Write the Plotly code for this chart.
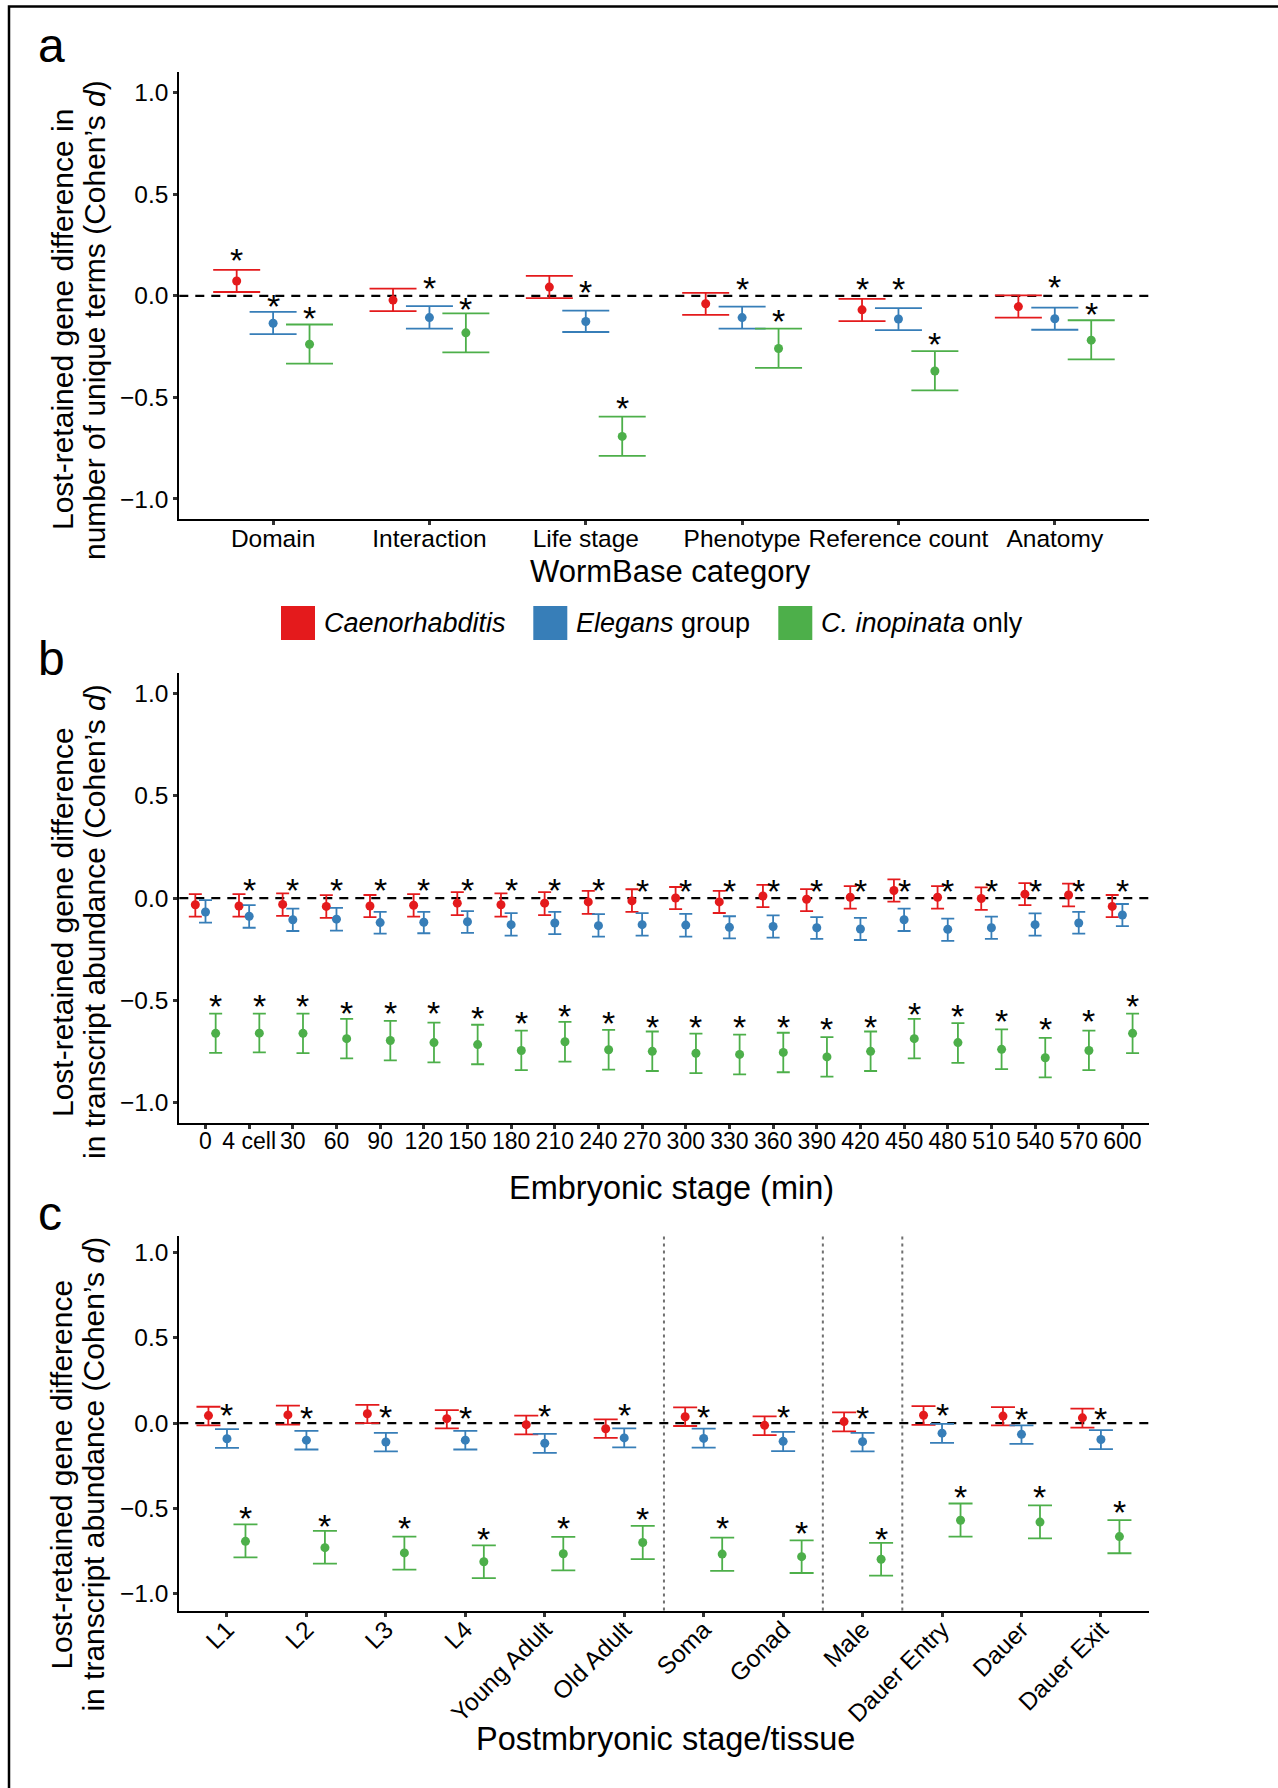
import plotly.graph_objects as go

W, H = 1278, 1788
FONT = "Liberation Sans, Arial, Helvetica, sans-serif"
RED, BLUE, GREEN = "#E41A1C", "#377EB8", "#4DAF4A"
SERIES_COLORS = [RED, BLUE, GREEN]

# ---------------- Panel a : WormBase category ----------------
a_categories = ["Domain", "Interaction", "Life stage", "Phenotype", "Reference count", "Anatomy"]
a_cae_mean = [0.073, -0.021, 0.043, -0.039, -0.069, -0.053]
a_cae_low = [0.019, -0.075, -0.011, -0.094, -0.124, -0.107]
a_cae_high = [0.128, 0.036, 0.098, 0.015, -0.015, 0.002]
a_cae_star = [0.193, None, None, None, 0.049, None]
a_ele_mean = [-0.135, -0.107, -0.126, -0.107, -0.114, -0.113]
a_ele_low = [-0.188, -0.161, -0.178, -0.161, -0.169, -0.167]
a_ele_high = [-0.079, -0.051, -0.073, -0.053, -0.060, -0.058]
a_ele_star = [-0.036, 0.053, 0.036, 0.049, 0.049, 0.058]
a_ino_mean = [-0.238, -0.182, -0.692, -0.259, -0.370, -0.218]
a_ino_low = [-0.334, -0.278, -0.788, -0.355, -0.465, -0.313]
a_ino_high = [-0.141, -0.086, -0.595, -0.161, -0.272, -0.120]
a_ino_star = [-0.096, -0.051, -0.538, -0.107, -0.223, -0.077]

# ---------------- Panel b : Embryonic stage ----------------
b_categories = ["0", "4 cell", "30", "60", "90", "120", "150", "180", "210", "240", "270",
                "300", "330", "360", "390", "420", "450", "480", "510", "540", "570", "600"]
b_cae_mean = [-0.033, -0.039, -0.031, -0.041, -0.039, -0.035, -0.025, -0.033, -0.025, -0.019, -0.014,
              0.000, -0.019, 0.010, -0.006, 0.004, 0.037, 0.004, -0.002, 0.019, 0.015, -0.041]
b_cae_high = [0.019, 0.019, 0.023, 0.014, 0.015, 0.019, 0.029, 0.023, 0.029, 0.035, 0.043,
              0.054, 0.035, 0.064, 0.044, 0.058, 0.091, 0.058, 0.052, 0.073, 0.070, 0.015]
b_cae_low = [-0.091, -0.091, -0.087, -0.097, -0.093, -0.091, -0.083, -0.091, -0.083, -0.077, -0.068,
             -0.054, -0.073, -0.044, -0.064, -0.052, -0.017, -0.052, -0.058, -0.035, -0.041, -0.093]
b_cae_star = [None] * 22
b_ele_mean = [-0.068, -0.089, -0.106, -0.103, -0.120, -0.118, -0.116, -0.130, -0.122, -0.135, -0.130,
              -0.132, -0.143, -0.139, -0.145, -0.151, -0.106, -0.153, -0.145, -0.130, -0.122, -0.083]
b_ele_high = [-0.010, -0.035, -0.052, -0.048, -0.068, -0.068, -0.064, -0.074, -0.068, -0.079, -0.074,
              -0.077, -0.089, -0.085, -0.093, -0.097, -0.052, -0.101, -0.091, -0.075, -0.068, -0.029]
b_ele_low = [-0.120, -0.145, -0.161, -0.159, -0.174, -0.172, -0.170, -0.184, -0.176, -0.188, -0.184,
             -0.188, -0.197, -0.193, -0.199, -0.205, -0.161, -0.209, -0.199, -0.184, -0.174, -0.137]
b_ele_star = [None, 0.052, 0.052, 0.052, 0.052, 0.052, 0.052, 0.052, 0.052, 0.052, 0.048,
              0.048, 0.048, 0.048, 0.048, 0.048, 0.048, 0.048, 0.048, 0.048, 0.048, 0.048]
b_ino_mean = [-0.661, -0.660, -0.661, -0.687, -0.696, -0.706, -0.716, -0.745, -0.702, -0.741, -0.749,
              -0.758, -0.764, -0.754, -0.776, -0.749, -0.687, -0.706, -0.739, -0.780, -0.745, -0.661]
b_ino_high = [-0.565, -0.565, -0.565, -0.590, -0.600, -0.609, -0.619, -0.648, -0.605, -0.644, -0.652,
              -0.662, -0.667, -0.658, -0.679, -0.652, -0.590, -0.611, -0.642, -0.683, -0.648, -0.565]
b_ino_low = [-0.756, -0.754, -0.758, -0.783, -0.793, -0.803, -0.812, -0.841, -0.799, -0.838, -0.845,
             -0.855, -0.861, -0.851, -0.872, -0.845, -0.783, -0.805, -0.836, -0.876, -0.841, -0.758]
b_ino_star = [-0.513, -0.513, -0.513, -0.547, -0.547, -0.547, -0.571, -0.594, -0.561, -0.594, -0.613,
              -0.613, -0.613, -0.613, -0.625, -0.613, -0.551, -0.561, -0.586, -0.625, -0.586, -0.513]

# ---------------- Panel c : Postembryonic stage / tissue ----------------
c_categories = ["L1", "L2", "L3", "L4", "Young Adult", "Old Adult", "Soma", "Gonad", "Male",
                "Dauer Entry", "Dauer", "Dauer Exit"]
c_group_ends = ["Old Adult", "Gonad", "Male"]
c_cae_mean = [0.044, 0.048, 0.055, 0.026, -0.009, -0.033, 0.037, -0.013, 0.009, 0.046, 0.041, 0.031]
c_cae_high = [0.096, 0.103, 0.107, 0.076, 0.044, 0.022, 0.092, 0.039, 0.063, 0.100, 0.094, 0.085]
c_cae_low = [-0.013, -0.009, 0.000, -0.031, -0.066, -0.087, -0.017, -0.070, -0.048, -0.011, -0.013, -0.026]
c_cae_star = [None] * 12
c_ele_mean = [-0.092, -0.100, -0.111, -0.100, -0.118, -0.087, -0.090, -0.107, -0.109, -0.059, -0.066, -0.096]
c_ele_high = [-0.035, -0.046, -0.057, -0.046, -0.063, -0.031, -0.033, -0.052, -0.057, -0.004, -0.013, -0.041]
c_ele_low = [-0.146, -0.155, -0.166, -0.155, -0.175, -0.142, -0.144, -0.164, -0.166, -0.116, -0.122, -0.153]
c_ele_star = [0.063, 0.048, 0.052, 0.048, 0.059, 0.066, 0.052, 0.052, 0.048, 0.066, 0.044, 0.044]
c_ino_mean = [-0.694, -0.731, -0.762, -0.814, -0.767, -0.701, -0.769, -0.784, -0.799, -0.570, -0.581, -0.666]
c_ino_high = [-0.594, -0.633, -0.666, -0.718, -0.668, -0.603, -0.672, -0.688, -0.703, -0.472, -0.483, -0.570]
c_ino_low = [-0.788, -0.825, -0.860, -0.910, -0.865, -0.799, -0.867, -0.880, -0.895, -0.666, -0.677, -0.764]
c_ino_star = [-0.541, -0.585, -0.596, -0.662, -0.596, -0.548, -0.598, -0.629, -0.662, -0.415, -0.415, -0.502]

y_tick_vals = [-1.0, -0.5, 0.0, 0.5, 1.0]
y_tick_text = ["\u22121.0", "\u22120.5", "0.0", "0.5", "1.0"]
legend_labels = ["<i>Caenorhabditis</i>", "<i>Elegans</i> group", "<i>C. inopinata</i> only"]


def px(x):
    return x / W


def py(y):
    return 1 - y / H


X_DOM = [px(179.3), px(1148.6)]
DODGE = [-0.233, 0.0, 0.233]

panels = [
    dict(cats=a_categories, top=72.4, bottom=519.3, cap=23.5, angle=0, standoff=-8, tick_size=24.5,
         series=[(a_cae_mean, a_cae_low, a_cae_high, a_cae_star),
                 (a_ele_mean, a_ele_low, a_ele_high, a_ele_star),
                 (a_ino_mean, a_ino_low, a_ino_high, a_ino_star)],
         ytitle=["Lost-retained gene difference in", "number of unique terms (Cohen\u2019s <i>d</i>)"],
         ytitle_y=320, xtitle="WormBase category", xtitle_x=670, xtitle_y=572, xtitle_size=31,
         letter="a", letter_y=45),
    dict(cats=b_categories, top=672.9, bottom=1123.2, cap=6.5, angle=0, standoff=-8, tick_size=23,
         series=[(b_cae_mean, b_cae_low, b_cae_high, b_cae_star),
                 (b_ele_mean, b_ele_low, b_ele_high, b_ele_star),
                 (b_ino_mean, b_ino_low, b_ino_high, b_ino_star)],
         ytitle=["Lost-retained gene difference", "in transcript abundance (Cohen\u2019s <i>d</i>)"],
         ytitle_y=922, xtitle="Embryonic stage (min)", xtitle_x=671, xtitle_y=1188, xtitle_size=32.5,
         letter="b", letter_y=658),
    dict(cats=c_categories, top=1235.7, bottom=1610.5, cap=12, angle=-45, standoff=-11, tick_size=24.5,
         series=[(c_cae_mean, c_cae_low, c_cae_high, c_cae_star),
                 (c_ele_mean, c_ele_low, c_ele_high, c_ele_star),
                 (c_ino_mean, c_ino_low, c_ino_high, c_ino_star)],
         ytitle=["Lost-retained gene difference", "in transcript abundance (Cohen\u2019s <i>d</i>)"],
         ytitle_y=1474.6, xtitle="Postmbryonic stage/tissue", xtitle_x=665, xtitle_y=1738.5,
         xtitle_size=32.5, letter="c", letter_y=1213),
]

fig = go.Figure()
layout_axes = {}
annotations = []
shapes = []

for k, p in enumerate(panels, start=1):
    xa = "x" if k == 1 else f"x{k}"
    ya = "y" if k == 1 else f"y{k}"
    n = len(p["cats"])
    for (mean, lo, hi, star), color, off in zip(p["series"], SERIES_COLORS, DODGE):
        xs = [i + off for i in range(n)]
        fig.add_trace(go.Scatter(
            x=xs, y=mean, mode="markers",
            marker=dict(color=color, size=9, line=dict(width=0)),
            error_y=dict(type="data", symmetric=False,
                         array=[h - m for m, h in zip(mean, hi)],
                         arrayminus=[m - l for m, l in zip(mean, lo)],
                         width=p["cap"], thickness=1.8, color=color),
            xaxis=xa, yaxis=ya, showlegend=False, hoverinfo="skip"))
        for xv, s in zip(xs, star):
            if s is not None:
                annotations.append(dict(x=xv, y=s, xref=xa, yref=ya, text="*", showarrow=False,
                                        font=dict(size=34, color="black", family=FONT), yshift=-3))
    layout_axes["xaxis" if k == 1 else f"xaxis{k}"] = dict(
        domain=X_DOM, range=[-0.6, n - 0.4], tickmode="array", tickvals=list(range(n)),
        ticktext=p["cats"], tickangle=p["angle"], showline=True, linecolor="black", linewidth=2,
        ticks="outside", ticklen=4, tickwidth=3, tickcolor="#333333", showgrid=False, zeroline=False,
        ticklabelstandoff=p["standoff"],
        tickfont=dict(size=p["tick_size"], color="black", family=FONT), anchor=ya, fixedrange=True)
    layout_axes["yaxis" if k == 1 else f"yaxis{k}"] = dict(
        domain=[py(p["bottom"]), py(p["top"])], range=[-1.1, 1.1], tickmode="array",
        tickvals=y_tick_vals, ticktext=y_tick_text, showline=True, linecolor="black", linewidth=2,
        ticks="outside", ticklen=4, tickwidth=3, tickcolor="#333333", showgrid=False, zeroline=False,
        tickfont=dict(size=24.5, color="black", family=FONT), anchor=xa, fixedrange=True)
    # zero reference line
    shapes.append(dict(type="line", xref=f"{xa} domain", yref=ya, x0=0, x1=1, y0=0, y1=0,
                       line=dict(color="black", width=2.2, dash="9px,7px"), layer="below"))
    # axis titles
    for line_txt, lx in zip(p["ytitle"], [62, 94]):
        annotations.append(dict(x=px(lx), y=py(p["ytitle_y"]), xref="paper", yref="paper",
                                text=line_txt, textangle=-90, showarrow=False,
                                xanchor="center", yanchor="middle",
                                font=dict(size=30, color="black", family=FONT)))
    annotations.append(dict(x=px(p["xtitle_x"]), y=py(p["xtitle_y"]), xref="paper", yref="paper",
                            text=p["xtitle"], showarrow=False, xanchor="center", yanchor="middle",
                            font=dict(size=p["xtitle_size"], color="black", family=FONT)))
    annotations.append(dict(x=px(36), y=py(p["letter_y"]), xref="paper", yref="paper",
                            text=p["letter"], showarrow=False, xanchor="left", yanchor="middle",
                            font=dict(size=48, color="black", family=FONT)))

# group separators in panel c
for name in c_group_ends:
    xv = c_categories.index(name) + 0.5
    shapes.append(dict(type="line", xref="x3", yref="y3 domain", x0=xv, x1=xv, y0=0, y1=1,
                       line=dict(color="#707070", width=2, dash="3px,4px"), layer="below"))

# legend (manual)
legend_sq = [(281, 315), (533.3, 567.3), (778.3, 812.3)]
for (x0, x1), color, lab in zip(legend_sq, SERIES_COLORS, legend_labels):
    shapes.append(dict(type="rect", xref="paper", yref="paper", x0=px(x0), x1=px(x1),
                       y0=py(640), y1=py(606), fillcolor=color, line=dict(width=0)))
    annotations.append(dict(x=px(x1 + 6.5), y=py(623), xref="paper", yref="paper", text=lab,
                            showarrow=False, xanchor="left", yanchor="middle",
                            font=dict(size=27, color="black", family=FONT)))

# outer frame
shapes.append(dict(type="rect", xref="paper", yref="paper", x0=px(9), x1=1.05, y0=-0.05, y1=py(6.5),
                   line=dict(color="black", width=2.5), fillcolor="rgba(0,0,0,0)"))

fig.update_layout(
    width=W, height=H, margin=dict(l=0, r=0, t=0, b=0),
    paper_bgcolor="white", plot_bgcolor="white",
    font=dict(family=FONT, color="black"),
    showlegend=False, annotations=annotations, shapes=shapes, **layout_axes)

fig.write_html("out.html", config={"displayModeBar": False},
               post_script="document.body.style.margin='0';document.body.style.padding='0';")
